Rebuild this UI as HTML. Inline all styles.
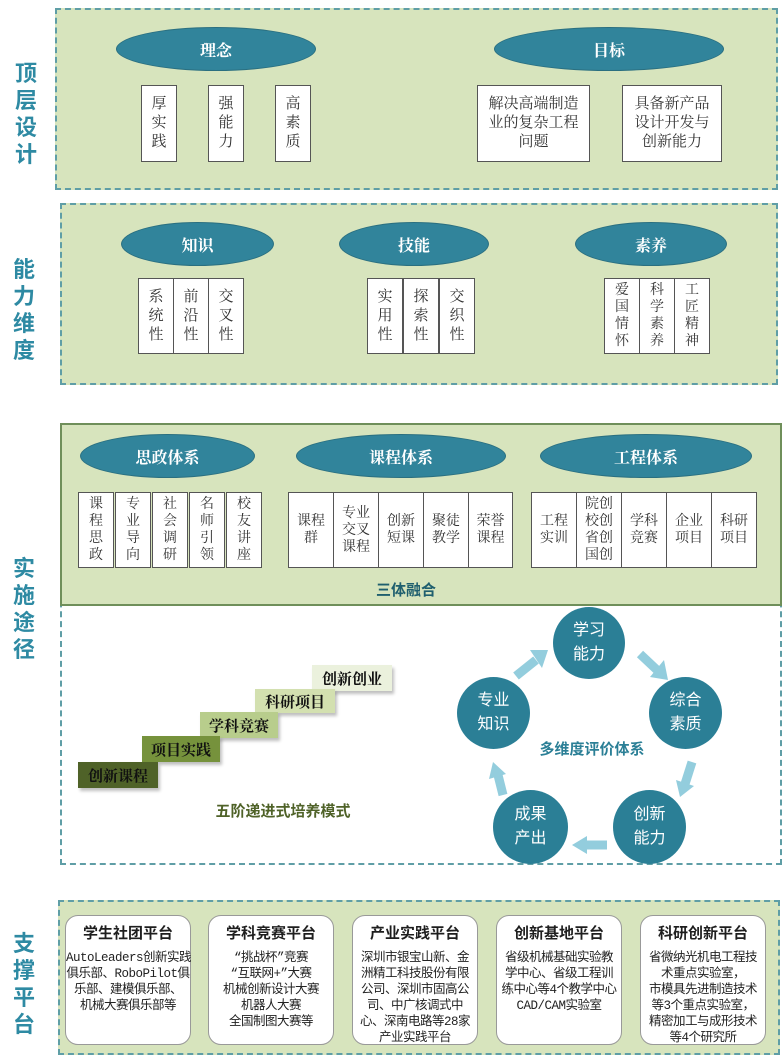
<!DOCTYPE html>
<html><head><meta charset="utf-8"><style>
*{margin:0;padding:0;box-sizing:border-box}
body{width:784px;height:1057px;background:#fff;position:relative;overflow:hidden;font-family:"Liberation Serif","Noto Serif CJK SC",serif}
.a{position:absolute}
.sec{position:absolute;background:#d7e4bd;border:2px dashed #5f9ea6}
.lab{position:absolute;color:#2e8aa3;font-family:"Liberation Sans","Noto Sans CJK SC",sans-serif;font-weight:bold;font-size:22px;line-height:27px;width:30px;text-align:center}
.el{position:absolute;background:#31849b;border-radius:50%;color:#fff;font-size:16px;font-weight:bold;display:flex;align-items:center;justify-content:center;border:1px solid #2a6f80}
.bx{position:absolute;background:#fff;border:1.5px solid #555;font-size:15px;line-height:19px;color:#333;text-align:center;display:flex;justify-content:center;align-items:center}
.v{width:1em;margin:0 auto;word-break:break-all}
.s4{font-size:14px;line-height:17px}
.st{position:absolute;font-weight:bold;font-size:15px;color:#111;display:flex;align-items:center;justify-content:center;box-shadow:2px 3px 3px rgba(0,0,0,.25)}
.cir{position:absolute;border-radius:50%;background:#2b7f96;color:#fff;font-family:"Liberation Sans","Noto Sans CJK SC",sans-serif;font-size:16px;line-height:24px;display:flex;align-items:center;justify-content:center;text-align:center}
.card{position:absolute;top:915px;width:126px;height:130px;background:#fff;border:1px solid #999;border-radius:13px;text-align:center;color:#222}
.card h4{font-family:"Liberation Sans","Noto Sans CJK SC",sans-serif;font-size:15px;margin-top:6px;color:#1e1e1e}
.card p{font-size:12.5px;line-height:16px;margin-top:7px;font-family:"Liberation Mono","Noto Sans CJK SC",monospace;letter-spacing:-0.5px;white-space:nowrap}
</style></head><body>

<div class="lab" style="left:11px;top:60px">顶<br>层<br>设<br>计</div>
<div class="lab" style="left:9px;top:256px">能<br>力<br>维<br>度</div>
<div class="lab" style="left:9px;top:555px">实<br>施<br>途<br>径</div>
<div class="lab" style="left:9px;top:930px">支<br>撑<br>平<br>台</div>

<div class="sec" style="left:55px;top:8px;width:723px;height:182px"></div>
<div class="el" style="left:116px;top:27px;width:200px;height:44px">理念</div>
<div class="el" style="left:494px;top:27px;width:230px;height:44px">目标</div>
<div class="bx" style="left:141px;top:85px;width:36px;height:77px"><div class="v">厚实践</div></div>
<div class="bx" style="left:208px;top:85px;width:36px;height:77px"><div class="v">强能力</div></div>
<div class="bx" style="left:275px;top:85px;width:36px;height:77px"><div class="v">高素质</div></div>
<div class="bx" style="left:477px;top:85px;width:113px;height:77px;padding:0 6px">解决高端制造业的复杂工程问题</div>
<div class="bx" style="left:622px;top:85px;width:100px;height:77px;padding:0 6px">具备新产品设计开发与创新能力</div>

<div class="sec" style="left:60px;top:203px;width:718px;height:182px"></div>
<div class="el" style="left:121px;top:222px;width:153px;height:44px">知识</div>
<div class="el" style="left:339px;top:222px;width:150px;height:44px">技能</div>
<div class="el" style="left:575px;top:222px;width:152px;height:44px">素养</div>
<div class="bx" style="left:138px;top:278px;width:36px;height:76px"><div class="v">系统性</div></div>
<div class="bx" style="left:173px;top:278px;width:36px;height:76px"><div class="v">前沿性</div></div>
<div class="bx" style="left:208px;top:278px;width:36px;height:76px"><div class="v">交叉性</div></div>
<div class="bx" style="left:367px;top:278px;width:36px;height:76px"><div class="v">实用性</div></div>
<div class="bx" style="left:403px;top:278px;width:36px;height:76px"><div class="v">探索性</div></div>
<div class="bx" style="left:439px;top:278px;width:36px;height:76px"><div class="v">交织性</div></div>
<div class="bx s4" style="left:604px;top:278px;width:36px;height:76px"><div class="v">爱国情怀</div></div>
<div class="bx s4" style="left:639px;top:278px;width:36px;height:76px"><div class="v">科学素养</div></div>
<div class="bx s4" style="left:674px;top:278px;width:36px;height:76px"><div class="v">工匠精神</div></div>

<div class="a" style="left:60px;top:423px;width:722px;height:442px;border:2px dashed #5f9ea6;background:#fff"></div>
<div class="a" style="left:60px;top:423px;width:722px;height:183px;background:#d7e4bd;border:2px solid #6f8f5a"></div>
<div class="el" style="left:80px;top:434px;width:175px;height:44px">思政体系</div>
<div class="el" style="left:296px;top:434px;width:210px;height:44px">课程体系</div>
<div class="el" style="left:540px;top:434px;width:212px;height:44px">工程体系</div>

<div class="bx s4" style="left:78px;top:492px;width:36px;height:76px"><div class="v">课程思政</div></div>
<div class="bx s4" style="left:115px;top:492px;width:36px;height:76px"><div class="v">专业导向</div></div>
<div class="bx s4" style="left:152px;top:492px;width:36px;height:76px"><div class="v">社会调研</div></div>
<div class="bx s4" style="left:189px;top:492px;width:36px;height:76px"><div class="v">名师引领</div></div>
<div class="bx s4" style="left:226px;top:492px;width:36px;height:76px"><div class="v">校友讲座</div></div>

<div class="bx s4" style="left:288px;top:492px;width:46px;height:76px"><div style="width:2em">课程群</div></div>
<div class="bx s4" style="left:333px;top:492px;width:46px;height:76px"><div style="width:2em">专业交叉课程</div></div>
<div class="bx s4" style="left:378px;top:492px;width:46px;height:76px"><div style="width:2em">创新短课</div></div>
<div class="bx s4" style="left:423px;top:492px;width:46px;height:76px"><div style="width:2em">聚徒教学</div></div>
<div class="bx s4" style="left:468px;top:492px;width:45px;height:76px"><div style="width:2em">荣誉课程</div></div>

<div class="bx s4" style="left:531px;top:492px;width:46px;height:76px"><div style="width:2em">工程实训</div></div>
<div class="bx s4" style="left:576px;top:492px;width:46px;height:76px"><div style="width:2em">院创校创省创国创</div></div>
<div class="bx s4" style="left:621px;top:492px;width:46px;height:76px"><div style="width:2em">学科竞赛</div></div>
<div class="bx s4" style="left:666px;top:492px;width:46px;height:76px"><div style="width:2em">企业项目</div></div>
<div class="bx s4" style="left:711px;top:492px;width:46px;height:76px"><div style="width:2em">科研项目</div></div>

<div class="a" style="left:350px;top:579px;width:112px;text-align:center;font-family:'Liberation Sans','Noto Sans CJK SC',sans-serif;font-weight:bold;font-size:15px;color:#1f5f6e">三体融合</div>

<div class="st" style="left:312px;top:665px;width:80px;height:26px;background:#ebf1dd">创新创业</div>
<div class="st" style="left:255px;top:689px;width:80px;height:24px;background:#d3e0b0">科研项目</div>
<div class="st" style="left:200px;top:712px;width:78px;height:26px;background:#b8cd8c">学科竞赛</div>
<div class="st" style="left:142px;top:736px;width:78px;height:26px;background:#76923c">项目实践</div>
<div class="st" style="left:78px;top:762px;width:80px;height:26px;background:#4f6228;color:#111">创新课程</div>
<div class="a" style="left:183px;top:800px;width:200px;text-align:center;font-family:'Liberation Sans','Noto Sans CJK SC',sans-serif;font-weight:bold;font-size:15px;color:#4f6228">五阶递进式培养模式</div>

<svg class="a" style="left:0;top:0" width="784" height="1057">
<g stroke="#93cddd" stroke-width="9" fill="#93cddd">
<line x1="516" y1="676" x2="536" y2="660"/><polygon points="530,650 548,650 542,668" stroke="none"/>
<line x1="640" y1="654" x2="657" y2="670"/><polygon points="664,660 668,680 650,677" stroke="none"/>
<line x1="692" y1="762" x2="685" y2="784"/><polygon points="676,780 694,786 680,797" stroke="none"/>
<line x1="607" y1="845" x2="585" y2="845"/><polygon points="587,836 587,854 572,845" stroke="none"/>
<line x1="503" y1="795" x2="498" y2="775"/><polygon points="489,779 506,774 493,762" stroke="none"/>
</g></svg>
<div class="cir" style="left:553px;top:607px;width:72px;height:72px">学习<br>能力</div>
<div class="cir" style="left:649px;top:677px;width:73px;height:72px">综合<br>素质</div>
<div class="cir" style="left:457px;top:677px;width:73px;height:72px">专业<br>知识</div>
<div class="cir" style="left:493px;top:790px;width:75px;height:74px">成果<br>产出</div>
<div class="cir" style="left:613px;top:790px;width:73px;height:74px">创新<br>能力</div>
<div class="a" style="left:522px;top:738px;width:140px;text-align:center;font-family:'Liberation Sans','Noto Sans CJK SC',sans-serif;font-weight:bold;font-size:15px;color:#2b7f96">多维度评价体系</div>

<div class="sec" style="left:58px;top:900px;width:722px;height:155px"></div>
<div class="card" style="left:65px"><h4>学生社团平台</h4><p>AutoLeaders创新实践<br>俱乐部、RoboPilot俱<br>乐部、建模俱乐部、<br>机械大赛俱乐部等</p></div>
<div class="card" style="left:208px"><h4>学科竞赛平台</h4><p>“挑战杯”竞赛<br>“互联网+”大赛<br>机械创新设计大赛<br>机器人大赛<br>全国制图大赛等</p></div>
<div class="card" style="left:352px"><h4>产业实践平台</h4><p>深圳市银宝山新、金<br>洲精工科技股份有限<br>公司、深圳市固高公<br>司、中广核调式中<br>心、深南电路等28家<br>产业实践平台</p></div>
<div class="card" style="left:496px"><h4>创新基地平台</h4><p>省级机械基础实验教<br>学中心、省级工程训<br>练中心等4个教学中心<br>CAD/CAM实验室</p></div>
<div class="card" style="left:640px"><h4>科研创新平台</h4><p>省微纳光机电工程技<br>术重点实验室，<br>市模具先进制造技术<br>等3个重点实验室，<br>精密加工与成形技术<br>等4个研究所</p></div>
</body></html>
